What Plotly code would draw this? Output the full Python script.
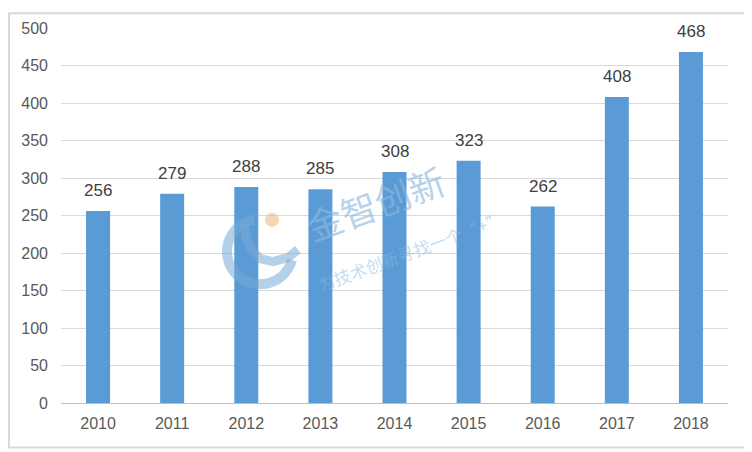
import numpy as np
import plotly.graph_objects as go

years = ["2010", "2011", "2012", "2013", "2014", "2015", "2016", "2017", "2018"]
values = [256, 279, 288, 285, 308, 323, 262, 408, 468]
y_ticks = [0, 50, 100, 150, 200, 250, 300, 350, 400, 450, 500]

FONT = "Liberation Sans, Arial, sans-serif"
pos = list(range(len(years)))

W, H = 752, 452
ML, MR, MT, MB = 53, 32, 16, 57
PW, PH = W - ML - MR, H - MT - MB


def px(fx, fy):
    """figure pixel -> paper coords (decoration only)"""
    return (fx - ML) / PW, (H - MB - fy) / PH


def path_from(points):
    pts = [px(a, b) for a, b in points]
    return "M " + " L ".join(f"{a:.4f},{b:.4f}" for a, b in pts)


fig = go.Figure()
fig.add_trace(go.Bar(
    x=pos, y=values,
    marker=dict(color="#5B9BD5", line=dict(width=0)),
    width=0.324,
))

WM = "rgba(140,185,225,0.65)"
annotations = [
    dict(x=p, y=v, xref="x", yref="y", text=str(v), showarrow=False,
         yanchor="bottom", yshift=9,
         font=dict(size=17, color="#404040", family=FONT))
    for p, v in zip(pos, values)
]
annotations += [
    dict(text="金智创新", xref="paper", yref="paper", x=0.471, y=0.536, showarrow=False,
         textangle=-20, font=dict(size=36, color=WM, family="Noto Sans CJK SC")),
    dict(text="为技术创新寻找一个“+”", xref="paper", yref="paper", x=0.523, y=0.404,
         showarrow=False, textangle=-20,
         font=dict(size=17, color="rgba(140,185,225,0.5)", family="Noto Sans CJK SC")),
]

# watermark logo (decoration)
cx, cy, r = 252, 242, 33
ang = np.radians(np.linspace(100, 345, 40))
arc = [(cx + r * np.cos(a), cy - r * np.sin(a)) for a in ang]
hook = [(236, 214), (238, 228), (243, 240), (252, 249), (265, 252), (280, 248), (290, 240)]
bx, by = px(257, 203)
bx2, by2 = px(271, 217)

fig.update_layout(
    width=W, height=H,
    margin=dict(l=ML, r=MR, t=MT, b=MB),
    paper_bgcolor="white", plot_bgcolor="white",
    showlegend=False,
    font=dict(family=FONT, size=16, color="#595959"),
    xaxis=dict(range=[-0.5, 8.5], tickvals=pos, ticktext=years,
               showgrid=False, showline=True, linecolor="#BFBFBF", zeroline=False,
               linewidth=1, ticks="", ticklabelstandoff=6,
               tickfont=dict(size=16, color="#595959")),
    yaxis=dict(range=[0, 500], tickvals=y_ticks, showgrid=True, gridcolor="#D9D9D9",
               gridwidth=1, zeroline=False, showline=False, ticks="",
               ticklabelstandoff=12, tickfont=dict(size=16, color="#595959")),
    shapes=[
        dict(type="rect", xref="paper", yref="paper", x0=px(1, 0)[0], x1=px(740, 0)[0],
             y0=px(0, 440)[1], y1=px(0, 1)[1], line=dict(color="#D9D9D9", width=2),
             layer="below"),
        dict(type="path", xref="paper", yref="paper", path=path_from(arc),
             line=dict(color="rgba(120,170,215,0.55)", width=10), layer="above"),
        dict(type="path", xref="paper", yref="paper", path=path_from(hook),
             line=dict(color="rgba(120,170,215,0.55)", width=9), layer="above"),
        dict(type="circle", xref="paper", yref="paper", x0=bx, x1=bx2,
             y0=by2, y1=by, fillcolor="rgba(240,180,120,0.55)", line=dict(width=0),
             layer="above"),
    ],
    annotations=annotations,
)

fig.write_html("out.html")
